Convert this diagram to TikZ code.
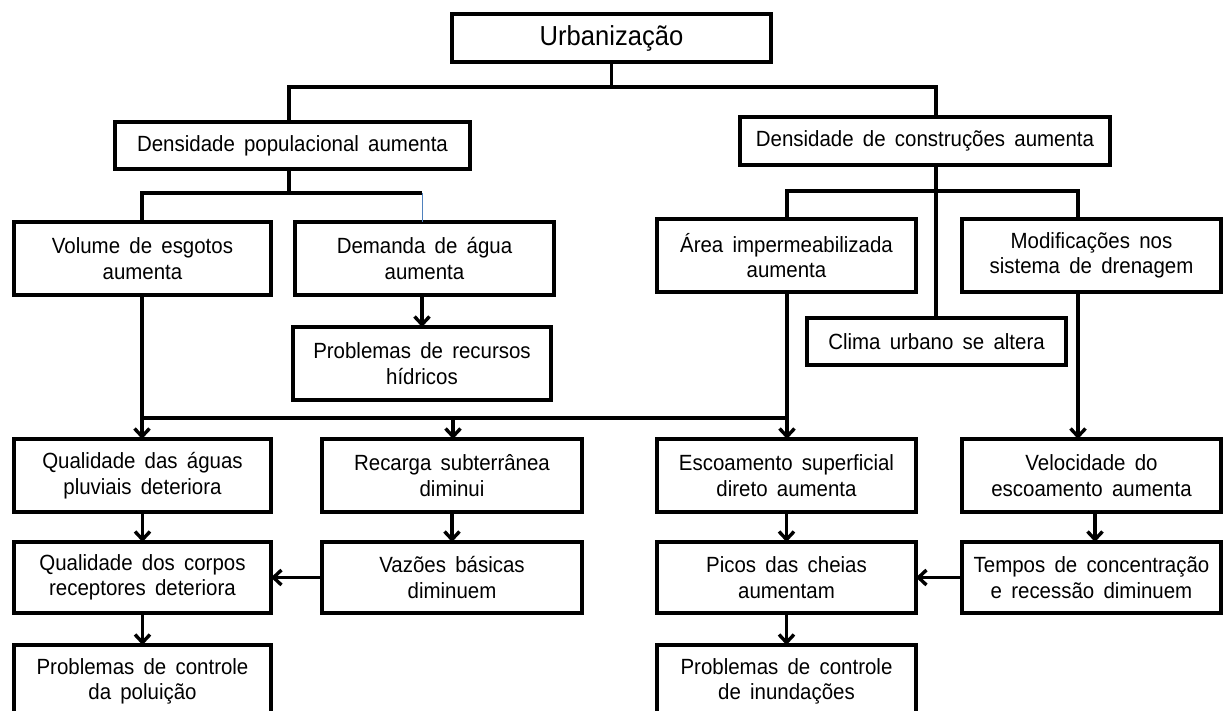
\documentclass[tikz,border=0pt]{standalone}
\usepackage{fontspec}
\setmainfont{Liberation Sans}[FakeStretch=0.93]
\usetikzlibrary{arrows.meta,calc}
\definecolor{thinblue}{HTML}{4F81BD}
\newdimen\wsp
\begin{document}
\begin{tikzpicture}[x=1pt,y=-1pt,
  box/.style={draw, line width=3.4pt, align=center, inner sep=0pt, outer sep=0pt,
    font=\fontsize{22}{25.5}\selectfont,
    execute at begin node={\wsp=0.42em \spaceskip=\wsp}},
  bw/.style={minimum width=259pt},
  conn/.style={line width=3.4pt},
  arr/.style={conn, -{Straight Barb[length=8pt,width=15pt]}}]
\useasboundingbox[fill=white] (0,0) rectangle (1224,711);

% nodes
\node[box, minimum width=319pt, minimum height=48pt, font=\fontsize{27.5}{30}\selectfont] (urb) at (611.5,38) {Urbanização};
\node[box, minimum width=355pt, minimum height=47pt] (dp) at (292.5,145.5) {Densidade populacional aumenta};
\node[box, minimum width=370pt, minimum height=48pt] (dc) at (925,141) {Densidade de construções aumenta};

\node[box, minimum width=257pt, minimum height=73pt] (vol) at (142.5,258.5) {Volume de esgotos\\aumenta};
\node[box, bw, minimum height=73pt] (dem) at (424.5,258.5) {Demanda de água\\aumenta};
\node[box, minimum width=258pt, minimum height=73pt] (prh) at (422,363.5) {Problemas de recursos\\hídricos};

\node[box, bw, minimum height=73pt] (area) at (786.5,255.5) {Área impermeabilizada\\aumenta};
\node[box, bw, minimum height=73pt] (mod) at (1091.5,255.5) {Modificações nos\\sistema de drenagem};
\node[box, bw, minimum height=47pt] (clima) at (936.5,341.5) {Clima urbano se altera};

\node[box, minimum width=257pt, minimum height=73pt] (qa) at (142.5,475.5) {Qualidade das águas\\pluviais deteriora};
\node[box, minimum width=260pt, minimum height=73pt] (rec) at (452,475.5) {Recarga subterrânea\\diminui};
\node[box, bw, minimum height=73pt] (esc) at (786.5,475.5) {Escoamento superficial\\direto aumenta};
\node[box, bw, minimum height=73pt] (vel) at (1091.5,475.5) {Velocidade do\\escoamento aumenta};

\node[box, minimum width=257pt, minimum height=71pt] (qc) at (142.5,577.5) {Qualidade dos corpos\\receptores deteriora};
\node[box, minimum width=260pt, minimum height=71pt] (vaz) at (452,577.5) {Vazões básicas\\diminuem};
\node[box, bw, minimum height=71pt] (picos) at (786.5,577.5) {Picos das cheias\\aumentam};
\node[box, bw, minimum height=71pt] (tempos) at (1091.5,577.5) {Tempos de concentração\\e recessão diminuem};

\node[box, minimum width=257pt, minimum height=73pt] (ppol) at (142.5,681.5) {Problemas de controle\\da poluição};
\node[box, bw, minimum height=73pt] (pinu) at (786.5,681.5) {Problemas de controle\\de inundações};

% junction coordinates
\coordinate (jU) at (611.5,87);
\coordinate (jL) at (289,87);
\coordinate (jR) at (936,87);
\coordinate (jP) at (289,193);
\coordinate (jPL) at (142,193);
\coordinate (jPR) at (422,193);
\coordinate (jC) at (936,191);
\coordinate (jCL) at (787,191);
\coordinate (jCR) at (1078,191);
\coordinate (jB) at (142,418);
\coordinate (jBR) at (787,418);
\coordinate (jBM) at (453,418);

% connectors
\draw[conn] (urb.south) -- (jU);
\draw[conn] (dp.north -| jL) -- (jL) -- (jR) -- (dc.north -| jR);

\draw[conn] (dp.south -| jP) -- (jP);
\draw[conn] (vol.north -| jPL) -- (jPL) -- (jPR);
\draw[thinblue, line width=1pt] (jPR) -- (dem.north -| jPR);

\draw[arr] (dem.south -| prh.north) -- (prh.north);

\draw[conn] (dc.south -| jC) -- (clima.north -| jC);
\draw[conn] (area.north -| jCL) -- (jCL) -- (jCR) -- (mod.north -| jCR);

\draw[arr] (vol.south -| jB) -- (qa.north -| jB);
\draw[conn] (jB) -- (jBR);
\draw[arr] (area.south -| jBR) -- (esc.north -| jBR);
\draw[arr] (jBM) -- (rec.north -| jBM);
\draw[arr] (mod.south -| jCR) -- (vel.north -| jCR);

\draw[arr] (qa.south) -- (qc.north);
\draw[arr] (rec.south) -- (vaz.north);
\draw[arr] (esc.south) -- (picos.north);
\draw[arr] ($(vel.south)+(3.5,0)$) -- ($(tempos.north)+(3.5,0)$);

\draw[arr] (vaz.west) -- (qc.east);
\draw[arr] (tempos.west) -- (picos.east);

\draw[arr] (qc.south) -- (ppol.north);
\draw[arr] (picos.south) -- (pinu.north);
\end{tikzpicture}
\end{document}
